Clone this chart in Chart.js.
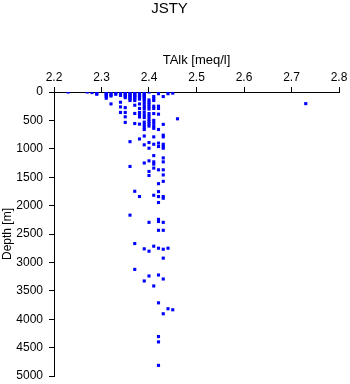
<!DOCTYPE html>
<html>
<head>
<meta charset="utf-8">
<script src="https://cdn.jsdelivr.net/npm/chart.js@4/dist/chart.umd.min.js"></script>
<style>
  html, body { margin: 0; padding: 0; background: #fff; overflow: hidden; }
  canvas { display: block; }
</style>
</head>
<body>
<canvas id="grafico" width="350" height="384"></canvas>
<script>
// Valores de TAlk (columnas) y profundidades medidas en cada uno
const talkValues = [2.23, 2.27, 2.28, 2.29, 2.31, 2.32, 2.33, 2.34, 2.35, 2.36, 2.37, 2.38, 2.39, 2.40, 2.41, 2.42, 2.43, 2.44, 2.45, 2.46, 2.73];
const depthsAtTalk = [
    [0],
    [0],
    [10],
    [0, 25, 40],
    [0, 20, 40, 60, 80, 110],
    [30, 50, 70, 210],
    [0, 20, 40],
    [0, 20, 40, 60, 180, 262, 360],
    [0, 20, 40, 60, 80, 100, 275, 360, 437, 535],
    [0, 20, 40, 60, 80, 100, 125, 150, 874, 1311, 2168],
    [0, 20, 40, 60, 80, 100, 125, 150, 233, 378, 555, 1748, 2668, 3123],
    [0, 20, 40, 60, 80, 100, 125, 210, 290, 360, 400, 440, 565, 827, 1840],
    [0, 20, 40, 60, 80, 100, 125, 150, 200, 250, 290, 350, 400, 450, 530, 575, 620, 660, 775, 930, 1250, 2761, 3327],
    [0, 140, 180, 220, 260, 300, 380, 430, 480, 520, 560, 600, 890, 990, 1212, 1399, 1470, 2295, 2803, 3239],
    [80, 120, 150, 250, 290, 380, 500, 550, 600, 640, 790, 920, 1120, 1230, 1270, 1340, 1818, 2715, 3415],
    [0, 30, 250, 290, 390, 660, 900, 960, 1370, 1614, 1754, 1841, 1946, 2242, 2280, 2435, 2750, 3222, 3712, 4306, 4400, 4813],
    [80, 570, 760, 790, 920, 960, 990, 1160, 1230, 1370, 1460, 1573, 1841, 1870, 2295, 2435, 2768, 2925, 3292, 3904],
    [0, 30, 2750, 3816],
    [20, 3834],
    [472],
    [205]
];
const xTicks = [2.2, 2.3, 2.4, 2.5, 2.6, 2.7, 2.8];
const yTicks = [0, 500, 1000, 1500, 2000, 2500, 3000, 3500, 4000, 4500, 5000];

const puntos = [];
talkValues.forEach((t, i) => {
    depthsAtTalk[i].forEach(d => puntos.push({ x: t, y: d }));
});

const fuente = "'Liberation Sans', Arial, Helvetica, sans-serif";
Chart.defaults.font.family = fuente;
Chart.defaults.color = '#000';

// Fija el borde inferior del área del gráfico (8px sobre el fondo del lienzo)
const ajusteAbajo = {
    id: 'ajusteAbajo',
    afterLayout(chart) {
        const y = chart.scales.y;
        const fondo = chart.height - 8;
        chart.chartArea.bottom = fondo;
        chart.chartArea.height = fondo - chart.chartArea.top;
        y.bottom = fondo;
        y.height = fondo - y.top;
        y.configure();
    }
};

new Chart(document.getElementById('grafico').getContext('2d'), {
    type: 'scatter',
    data: {
        datasets: [{
            data: puntos,
            pointStyle: 'rect',
            pointRadius: 2.2,
            pointHoverRadius: 2.2,
            backgroundColor: '#0000ff',
            borderWidth: 0
        }]
    },
    plugins: [ajusteAbajo],
    options: {
        responsive: false,
        animation: false,
        devicePixelRatio: 1,
        layout: { autoPadding: false, padding: { left: 0, right: 11, top: 0, bottom: 8 } },
        plugins: {
            legend: { display: false },
            tooltip: { enabled: false },
            title: {
                display: true,
                text: 'JSTY',
                color: '#000',
                font: { size: 15, weight: 'normal' },
                padding: { top: 0, bottom: 0 }
            }
        },
        scales: {
            x: {
                type: 'linear',
                position: 'top',
                min: xTicks[0],
                max: xTicks[xTicks.length - 1],
                afterBuildTicks: s => { s.ticks = xTicks.map(v => ({ value: v })); },
                afterFit: s => { s.height = 74; },
                ticks: {
                    color: '#000',
                    font: { size: 12 },
                    padding: 2,
                    maxRotation: 0,
                    callback: v => v.toFixed(1)
                },
                grid: { drawOnChartArea: false, tickLength: 5, color: '#000' },
                border: { color: '#000', width: 1 },
                title: {
                    display: true,
                    text: 'TAlk [meq/l]',
                    color: '#000',
                    font: { size: 13 },
                    padding: { top: 35, bottom: 0 }
                }
            },
            y: {
                type: 'linear',
                reverse: true,
                min: yTicks[0],
                max: yTicks[yTicks.length - 1],
                afterBuildTicks: s => { s.ticks = yTicks.map(v => ({ value: v })); },
                afterFit: s => { s.width = 54; },
                ticks: {
                    color: '#000',
                    font: { size: 12 },
                    padding: 6,
                    callback: v => String(v)
                },
                grid: { drawOnChartArea: false, tickLength: 5, color: '#000' },
                border: { color: '#000', width: 1 },
                title: {
                    display: true,
                    text: 'Depth [m]',
                    color: '#000',
                    font: { size: 12 },
                    padding: { top: 0, bottom: 0 }
                }
            }
        }
    }
});
</script>
</body>
</html>
